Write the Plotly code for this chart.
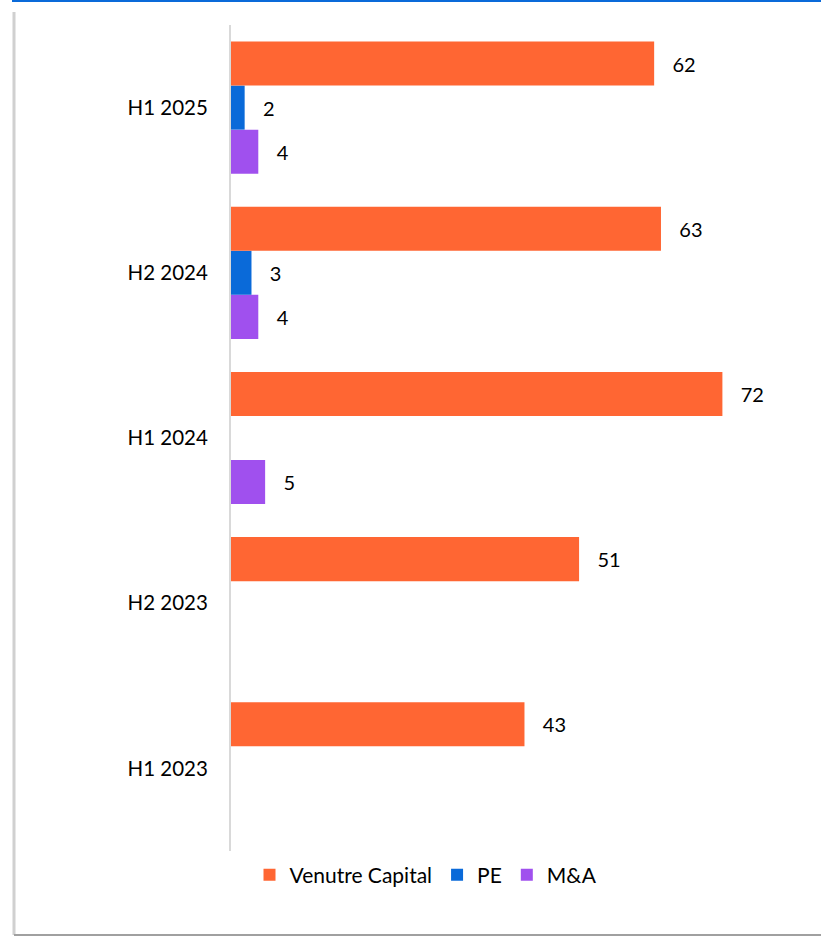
import plotly.graph_objects as go

categories = ["H1 2023", "H2 2023", "H1 2024", "H2 2024", "H1 2025"]
vc = [43, 51, 72, 63, 62]
pe = [None, None, None, 3, 2]
ma = [None, None, 5, 4, 4]

colors = {"Venutre Capital": "#FF6633", "PE": "#0A6AD9", "M&A": "#A050EE"}
NB = "\u00a0" * 3

fig = go.Figure()
for name, vals in [("M&A", ma), ("PE", pe), ("Venutre Capital", vc)]:
    fig.add_trace(go.Bar(
        y=categories, x=vals, name=name, orientation="h",
        marker=dict(color=colors[name], line=dict(width=0)),
        text=[None if v is None else f"{NB}{v}" for v in vals],
        textposition="outside", cliponaxis=False,
        textfont=dict(size=20, color="#000000", family="Lato"),
    ))

W, H = 821, 937
L, R, T, B = 231, 44, 25, 86
pw, ph = W - L - R, H - T - B

def px_x(p):
    return (p - L) / pw

def px_y(p):
    return (H - B - p) / ph

fig.update_layout(
    width=W, height=H,
    margin=dict(l=L, r=R, t=T, b=B),
    paper_bgcolor="white", plot_bgcolor="white",
    barmode="group", bargap=0.2, bargroupgap=0,
    font=dict(family="Lato", size=20, color="#000000"),
    xaxis=dict(range=[0, 80], visible=False, showgrid=False, zeroline=False),
    yaxis=dict(categoryorder="array", categoryarray=categories,
               showline=True, linecolor="#D9D9D9", linewidth=2,
               showgrid=False, ticks="", ticklabelstandoff=17,
               tickfont=dict(size=20.5, family="Lato", color="#000000")),
    showlegend=True,
    legend=dict(orientation="h", traceorder="reversed",
                x=px_x(426), xanchor="center", y=px_y(875), yanchor="middle",
                font=dict(size=21, family="Lato", color="#000000"),
                itemwidth=30, bgcolor="rgba(0,0,0,0)"),
    shapes=[
        dict(type="line", xref="paper", yref="paper",
             x0=px_x(12), x1=px_x(W), y0=px_y(1), y1=px_y(1),
             line=dict(color="#0A6AD9", width=2)),
        dict(type="line", xref="paper", yref="paper",
             x0=px_x(14), x1=px_x(14), y0=px_y(12), y1=px_y(935),
             line=dict(color="#D0D0D0", width=3)),
        dict(type="line", xref="paper", yref="paper",
             x0=px_x(14), x1=px_x(W), y0=px_y(935), y1=px_y(935),
             line=dict(color="#A0A0A0", width=2)),
    ],
)

fig.write_html("out.html", config={"displayModeBar": False},
               post_script="document.body.style.margin='0';document.body.style.overflow='hidden';")
